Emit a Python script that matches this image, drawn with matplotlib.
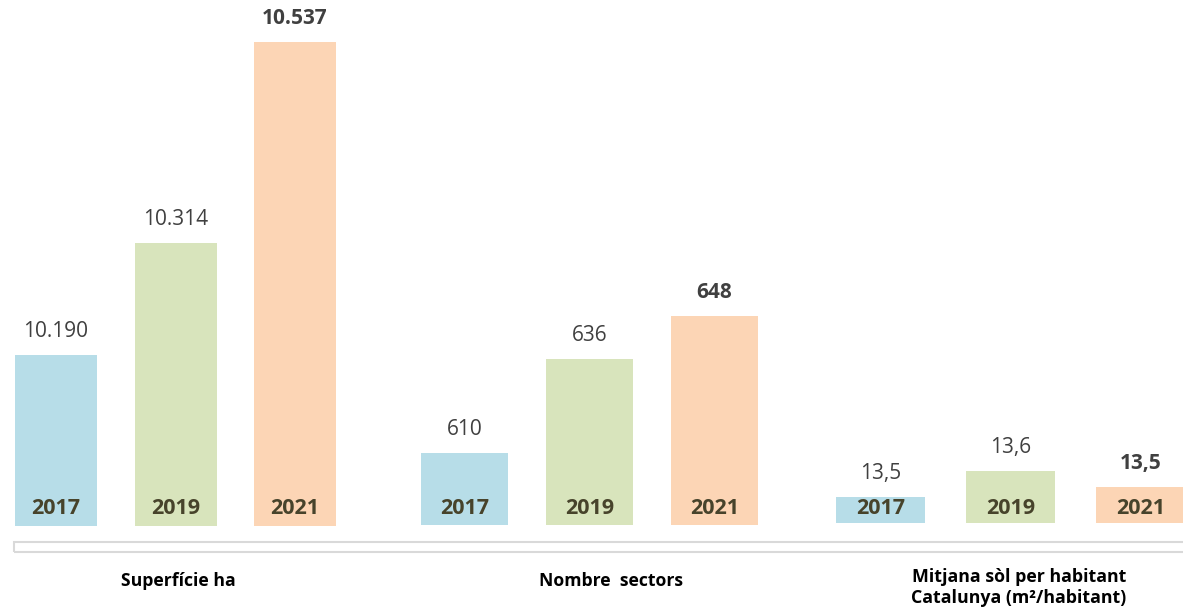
import matplotlib
matplotlib.use("Agg")
import matplotlib.pyplot as plt
from matplotlib.patches import Rectangle
from matplotlib.transforms import blended_transform_factory

plt.rcParams['font.family'] = ['Open Sans', 'DejaVu Sans']

years = ['2017', '2019', '2021']
superficie = [10190, 10314, 10537]
sectors = [610, 636, 648]
mitjana = [13.50, 13.60, 13.54]
superficie_labels = ['10.190', '10.314', '10.537']
sectors_labels = ['610', '636', '648']
mitjana_labels = ['13,5', '13,6', '13,5']
categories = ['Superfície ha', 'Nombre  sectors', 'Mitjana sòl per habitant\nCatalunya (m²/habitant)']
colors = ['#b7dde8', '#d8e4bc', '#fcd5b5']

W, H = 1183, 610
fig = plt.figure(figsize=(W / 100, H / 100), dpi=100)

# per group: values, labels, first bar centre (px), spacing (px), bar width (px),
# baseline (px from top), y-axis start value, px per unit
groups = [
    (superficie, superficie_labels, 56, 119.5, 82, 526, 10000, 0.902),
    (sectors, sectors_labels, 464.5, 125, 87, 525, 590, 3.605),
    (mitjana, mitjana_labels, 880.5, 130, 89, 523, 13.4, 260.0),
]

for vals, labs, c0, sp, bw, base_px, ymin, scale in groups:
    left = c0 - sp / 2
    ax = fig.add_axes([left / W, 1 - base_px / H, 3 * sp / W, base_px / H])
    ax.set_xlim(-0.5, 2.5)
    ax.set_ylim(ymin, ymin + base_px / scale)
    ax.axis('off')
    x = range(len(vals))
    ax.bar(x, [v - ymin for v in vals], bottom=ymin, width=bw / sp, color=colors, clip_on=False)
    for i, (v, lab) in enumerate(zip(vals, labs)):
        ax.annotate(lab, (i, v), xytext=(0, 13), textcoords='offset points',
                    ha='center', va='baseline', fontsize=15, color='#404040',
                    fontweight='bold' if i == 2 else 'normal')
    tr = blended_transform_factory(ax.transData, fig.transFigure)
    for i, yr in enumerate(years):
        ax.text(i, 1 - 508 / H, yr, transform=tr, ha='center', va='center',
                fontsize=15.5, fontweight='bold', color='#47432b')

fig.patches.append(Rectangle((14 / W, 1 - 552 / H), 1.2, 10 / H, transform=fig.transFigure,
                             fill=False, edgecolor='#d9d9d9', lw=1.5))

fig.text(178 / W, 1 - 581 / H, categories[0], ha='center', va='center', fontsize=12.7, fontweight='bold')
fig.text(611 / W, 1 - 581 / H, categories[1], ha='center', va='center', fontsize=12.7, fontweight='bold')
fig.text(1019 / W, 1 - 587.5 / H, categories[2], ha='center', va='center', fontsize=12.8,
         fontweight='bold', linespacing=1.15)

fig.savefig('out.png', dpi=100)
